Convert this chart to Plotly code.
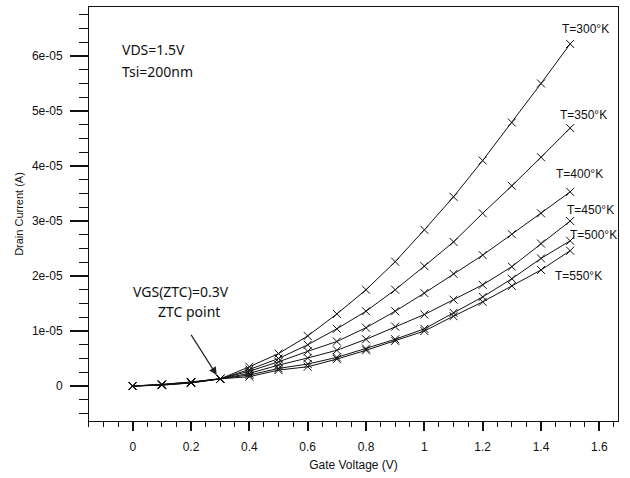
import plotly.graph_objects as go

# Gate voltage sweep (V)
vgs = [0.0, 0.1, 0.2, 0.3, 0.4, 0.5, 0.6, 0.7, 0.8, 0.9, 1.0, 1.1, 1.2, 1.3, 1.4, 1.5]

# Drain current (A) for each temperature
id_300 = [0.0, 0.015e-5, 0.055e-5, 0.13e-5, 0.35e-5, 0.59e-5, 0.91e-5, 1.31e-5, 1.75e-5, 2.26e-5,
          2.84e-5, 3.44e-5, 4.10e-5, 4.79e-5, 5.50e-5, 6.22e-5]
id_350 = [0.0, 0.018e-5, 0.058e-5, 0.13e-5, 0.30e-5, 0.50e-5, 0.75e-5, 1.04e-5, 1.36e-5, 1.75e-5,
          2.18e-5, 2.62e-5, 3.14e-5, 3.64e-5, 4.16e-5, 4.69e-5]
id_400 = [0.0, 0.021e-5, 0.062e-5, 0.13e-5, 0.27e-5, 0.44e-5, 0.63e-5, 0.81e-5, 1.06e-5, 1.36e-5,
          1.69e-5, 2.04e-5, 2.38e-5, 2.76e-5, 3.14e-5, 3.53e-5]
id_450 = [0.0, 0.024e-5, 0.066e-5, 0.13e-5, 0.23e-5, 0.38e-5, 0.51e-5, 0.65e-5, 0.85e-5, 1.08e-5,
          1.30e-5, 1.57e-5, 1.84e-5, 2.17e-5, 2.59e-5, 3.00e-5]
id_500 = [0.0, 0.027e-5, 0.070e-5, 0.13e-5, 0.20e-5, 0.32e-5, 0.40e-5, 0.52e-5, 0.68e-5, 0.85e-5,
          1.04e-5, 1.33e-5, 1.62e-5, 1.95e-5, 2.32e-5, 2.64e-5]
id_550 = [0.0, 0.030e-5, 0.074e-5, 0.13e-5, 0.17e-5, 0.29e-5, 0.35e-5, 0.49e-5, 0.65e-5, 0.82e-5,
          1.00e-5, 1.27e-5, 1.53e-5, 1.82e-5, 2.11e-5, 2.46e-5]

series = [id_300, id_350, id_400, id_450, id_500, id_550]
temp_labels = ["T=300°K", "T=350°K", "T=400°K", "T=450°K", "T=500°K", "T=550°K"]
# label anchor points (data coords) beside each curve's end
label_x = [1.554, 1.546, 1.532, 1.569, 1.580, 1.529]
label_y = [6.485e-5, 4.927e-5, 3.855e-5, 3.20e-5, 2.745e-5, 2.00e-5]

y_tickvals = [0.0, 1e-5, 2e-5, 3e-5, 4e-5, 5e-5, 6e-5]
y_ticktext = ["0", "1e-05", "2e-05", "3e-05", "4e-05", "5e-05", "6e-05"]
x_tickvals = [0, 0.2, 0.4, 0.6, 0.8, 1.0, 1.2, 1.4, 1.6]
x_ticktext = ["0", "0.2", "0.4", "0.6", "0.8", "1", "1.2", "1.4", "1.6"]

fig = go.Figure()
for ys, name in zip(series, temp_labels):
    fig.add_trace(go.Scatter(
        x=vgs, y=ys, name=name, mode="lines+markers",
        line=dict(color="#111", width=1),
        marker=dict(symbol="x-thin", size=8, line=dict(color="#111", width=1)),
        showlegend=False,
    ))

label_font = dict(family="Liberation Sans, Arial, sans-serif", size=12, color="#111")
note_font = dict(family="Noto Sans, Open Sans, sans-serif", size=14, color="#111")

annotations = []
for lx, ly, t in zip(label_x, label_y, temp_labels):
    annotations.append(dict(x=lx, y=ly, xref="x", yref="y", text=t, showarrow=False,
                            font=label_font, xanchor="center", yanchor="middle"))

annotations += [
    dict(x=-0.0436, y=6.12e-5, xref="x", yref="y", text="VDS=1.5V", showarrow=False,
         font=note_font, xanchor="left", yanchor="middle"),
    dict(x=-0.0436, y=5.727e-5, xref="x", yref="y", text="Tsi=200nm", showarrow=False,
         font=note_font, xanchor="left", yanchor="middle"),
    dict(x=0.164, y=1.715e-5, xref="x", yref="y", text="VGS(ZTC)=0.3V", showarrow=False,
         font=note_font, xanchor="center", yanchor="middle"),
    dict(x=0.192, y=1.351e-5, xref="x", yref="y", text="ZTC point", showarrow=False,
         font=note_font, xanchor="center", yanchor="middle"),
    dict(x=0.288, y=0.20e-5, ax=0.197, ay=0.958e-5, xref="x", yref="y", axref="x", ayref="y",
         text="", showarrow=True, arrowhead=2, arrowsize=1.3, arrowwidth=1.2, arrowcolor="#222"),
]

axis_font = dict(family="Liberation Sans, Arial, sans-serif", size=12, color="#111")

fig.update_layout(
    width=630, height=478,
    margin=dict(l=89, r=12, t=7, b=57),
    paper_bgcolor="white", plot_bgcolor="white",
    annotations=annotations,
    xaxis=dict(
        range=[-0.1499, 1.664], tickvals=x_tickvals, ticktext=x_ticktext,
        showgrid=False, zeroline=False,
        showline=True, linecolor="#111", linewidth=1, mirror=True,
        ticks="outside", ticklen=9, tickwidth=2, tickcolor="#111",
        minor=dict(dtick=0.05, tick0=0, ticks="outside", ticklen=5, tickwidth=1, tickcolor="#111"),
        tickfont=axis_font, ticklabelstandoff=6,
        title=dict(text="Gate Voltage (V)", font=axis_font, standoff=7),
    ),
    yaxis=dict(
        range=[-0.636e-5, 6.891e-5], tickvals=y_tickvals, ticktext=y_ticktext,
        showgrid=False, zeroline=False,
        showline=True, linecolor="#111", linewidth=1, mirror=True,
        ticks="outside", ticklen=18, tickwidth=2, tickcolor="#111",
        minor=dict(dtick=2.5e-6, tick0=0, ticks="outside", ticklen=9, tickwidth=1, tickcolor="#111"),
        tickfont=axis_font, ticklabelstandoff=5,
        title=dict(text="Drain Current (A)", font=dict(family="Liberation Sans, Arial, sans-serif", size=11, color="#111"), standoff=6),
    ),
)

fig.write_html("out.html")
